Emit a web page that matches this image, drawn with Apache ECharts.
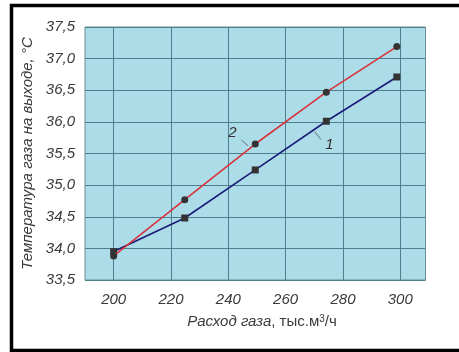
<!DOCTYPE html>
<html>
<head>
<meta charset="utf-8">
<script src="https://cdn.jsdelivr.net/npm/echarts@6/dist/echarts.min.js"></script>
<style>
html,body{margin:0;padding:0;background:#fff;}
#c{width:459px;height:352px;}
</style>
</head>
<body>
<div id="c"></div>
<script>
// Data
var xTicks = [200, 220, 240, 260, 280, 300];
var flowX = [200, 224.8, 249.4, 274.2, 298.8];
var series1 = [33.95, 34.48, 35.24, 36.01, 36.71]; // curve 1 (blue, squares)
var series2 = [33.88, 34.77, 35.65, 36.47, 37.19]; // curve 2 (red, circles)
var yTitle = 'Температура газа на выходе, °С';
var xTitleItalic = 'Расход газа';
var xTitleUnit = ', тыс.м';
var label1 = {text: '1', at: [275.3, 35.63], lead: [[270.1, 35.845], [272.4, 35.72]]};
var label2 = {text: '2', at: [241.4, 35.82], lead: [[244.6, 35.71], [246.9, 35.62]]};

function pairs(xs, ys){ return xs.map(function(x,i){ return [x, ys[i]]; }); }

var chart = echarts.init(document.getElementById('c'), null, {renderer:'canvas'});
var fontFam = '"Liberation Sans", Arial, sans-serif';
chart.setOption({
  animation: false,
  backgroundColor: '#ffffff',
  graphic: [{
    type: 'rect', silent: true,
    shape: {x: 11.5, y: 5.5, width: 470, height: 345},
    style: {fill: null, stroke: '#000', lineWidth: 3.5}
  }],
  grid: {left: 85, top: 27, right: 33.5, bottom: 72, show: true,
         backgroundColor: '#acdce8', borderColor: '#6a8f99', borderWidth: 1},
  xAxis: {
    type: 'value', min: 190, max: 308.8,
    name: '', nameLocation: 'middle',
    axisLine: {show: false}, axisTick: {show: false, customValues: xTicks},
    axisLabel: {customValues: xTicks, margin: 12, fontSize: 15, fontStyle: 'italic',
                color: '#3a3a3a', fontFamily: fontFam},
    splitLine: {show: true, lineStyle: {color: '#4f7f8c', width: 1}}
  },
  yAxis: {
    type: 'value', min: 33.5, max: 37.5, interval: 0.5,
    name: yTitle, nameLocation: 'middle', nameGap: 50,
    nameTextStyle: {fontSize: 15, fontStyle: 'italic', color: '#3a3a3a', fontFamily: fontFam},
    axisLine: {show: false}, axisTick: {show: false},
    axisLabel: {margin: 10, fontSize: 15, fontStyle: 'italic', color: '#3a3a3a', fontFamily: fontFam,
                formatter: function(v){ return v.toFixed(1).replace('.', ','); }},
    splitLine: {show: true, lineStyle: {color: '#4f7f8c', width: 1}}
  },
  series: [
    {
      type: 'line', data: pairs(flowX, series2), symbol: 'circle', symbolSize: 7,
      lineStyle: {color: '#d8323c', width: 1.6}, itemStyle: {color: '#333333'}, z: 3,
      markLine: {silent: true, symbol: 'none', label: {show: false},
        lineStyle: {color: '#555', width: 0.8, type: 'solid'},
        data: [[{coord: label2.lead[0]}, {coord: label2.lead[1]}]]},
      markPoint: {silent: true, symbol: 'circle', symbolSize: 1, itemStyle: {color: 'rgba(0,0,0,0)'},
        label: {show: true, position: 'inside', formatter: label2.text, fontSize: 15, fontStyle: 'italic',
                color: '#333', fontFamily: fontFam},
        data: [{coord: label2.at}]}
    },
    {
      type: 'line', data: pairs(flowX, series1), symbol: 'rect', symbolSize: 7,
      lineStyle: {color: '#1c1c78', width: 1.6}, itemStyle: {color: '#333333'}, z: 2,
      markLine: {silent: true, symbol: 'none', label: {show: false},
        lineStyle: {color: '#555', width: 0.8, type: 'solid'},
        data: [[{coord: label1.lead[0]}, {coord: label1.lead[1]}]]},
      markPoint: {silent: true, symbol: 'circle', symbolSize: 1, itemStyle: {color: 'rgba(0,0,0,0)'},
        label: {show: true, position: 'inside', formatter: label1.text, fontSize: 15, fontStyle: 'italic',
                color: '#333', fontFamily: fontFam},
        data: [{coord: label1.at}]}
    }
  ]
});
// x-axis title with superscript, placed via a title component
chart.setOption({
  title: {
    left: 257, top: 309, textAlign: 'center',
    text: '{i|' + xTitleItalic + '}{n|' + xTitleUnit + '}{s|3}{n|/ч}',
    textStyle: {fontWeight: 'normal', rich: {
      i: {fontSize: 15, fontStyle: 'italic', fontWeight: 'normal', color: '#3a3a3a', fontFamily: fontFam},
      n: {fontSize: 15, fontWeight: 'normal', color: '#3a3a3a', fontFamily: fontFam},
      s: {fontSize: 10, fontWeight: 'normal', color: '#3a3a3a', fontFamily: fontFam, verticalAlign: 'top', padding: [0,0,6,0]}
    }}
  }
});
</script>
</body>
</html>
